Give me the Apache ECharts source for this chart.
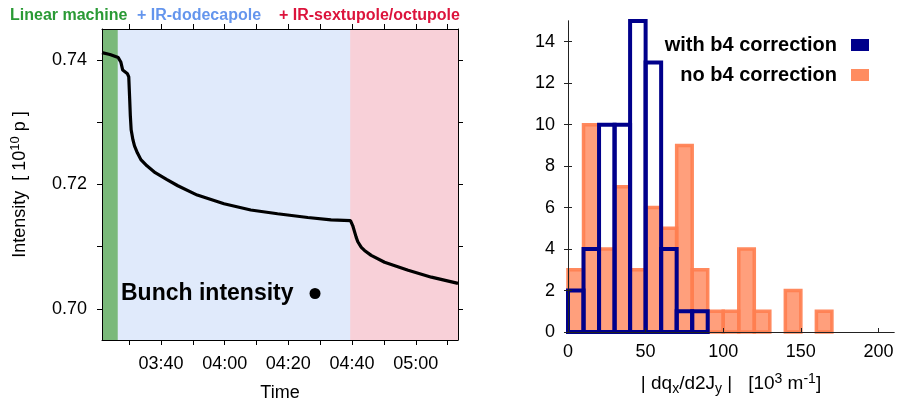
<!DOCTYPE html>
<html>
<head>
<meta charset="utf-8">
<script src="https://cdn.jsdelivr.net/npm/echarts@6/dist/echarts.min.js"></script>
<style>html,body{margin:0;padding:0;background:#fff}#c{width:903px;height:407px}</style>
</head>
<body>
<div id="c"></div>
<script>
// ---- data ----
// left panel: time in minutes after midnight, intensity in 1e10 p
const timeMin = [201.5, 204.0, 206.6, 207.4, 208.0, 209.5, 209.9, 210.2, 210.4, 210.65, 211.2, 211.7, 212.6, 213.7, 215.6, 218.2, 221.9, 225.3, 231.4, 239.8, 248.2, 256.6, 266.1, 273.4, 279.5, 280.2, 281.3, 281.8, 282.9, 283.9, 286.0, 290.2, 297.6, 304.9, 313.25];
const intensity = [0.7412, 0.7409, 0.7404, 0.7397, 0.7384, 0.7378, 0.7373, 0.7336, 0.7310, 0.7288, 0.7272, 0.7262, 0.7251, 0.7240, 0.7230, 0.7219, 0.7208, 0.7198, 0.7183, 0.7169, 0.7159, 0.7153, 0.7147, 0.7143, 0.7142, 0.7134, 0.7115, 0.7108, 0.7099, 0.7094, 0.7086, 0.7075, 0.7062, 0.7051, 0.7041];
const phaseNames = ['Linear machine', '+ IR-dodecapole', '+ IR-sextupole/octupole'];
const phaseEdges = [201.5, 206.45, 279.4, 313.25];
const timeTicks = [210, 220, 230, 240, 250, 260, 270, 280, 290, 300, 310];
const timeLabels = [220, 240, 260, 280, 300];
const intensityTicks = [0.70, 0.71, 0.72, 0.73, 0.74];
const intensityLabels = [0.70, 0.72, 0.74];

// right panel: histograms, bins of width 10 starting at binStart
const binWidth = 10;
const binStart = [0, 10, 20, 30, 40, 50, 60, 70, 80, 90, 100, 110, 120, 130, 140, 150, 160];
const countNoB4 = [3, 10, 4, 7, 3, 6, 5, 9, 3, 1, 1, 4, 1, 0, 2, 0, 1];
const countWithB4 = [2, 4, 10, 10, 15, 13, 4, 1, 1, 0, 0, 0, 0, 0, 0, 0, 0];
const histXTicks = [0, 50, 100, 150, 200];
const histYTicks = [0, 2, 4, 6, 8, 10, 12, 14];

// ---- chart ----
const FONT = '"Liberation Sans", Arial, Helvetica, sans-serif';
const chart = echarts.init(document.getElementById('c'), null, {renderer: 'canvas'});
const pad = n => (n < 10 ? '0' : '') + n;
const fmtTime = v => pad(Math.floor(v / 60)) + ':' + pad(Math.round(v % 60));

const lineData = timeMin.map((t, i) => [t, intensity[i]]);
const bandColors = ['rgba(34,139,34,0.6)', 'rgba(100,149,237,0.2)', 'rgba(220,20,60,0.2)'];
const titleColors = ['#2a9a35', '#6495ed', '#dc143c'];
const bands = phaseNames.map((n, i) => [
  {xAxis: phaseEdges[i], itemStyle: {color: bandColors[i]}},
  {xAxis: phaseEdges[i + 1]}
]);

function histItem(stroke, fill, lw) {
  return function (params, api) {
    const x0 = api.value(0), y = api.value(1);
    if (!y) return null;
    const p0 = api.coord([x0, 0]);
    const p1 = api.coord([x0 + binWidth, y]);
    return {
      type: 'rect',
      shape: {x: p0[0], y: p1[1], width: p1[0] - p0[0], height: p0[1] - p1[1]},
      style: {fill: fill, stroke: stroke, lineWidth: lw}
    };
  };
}

const axisTxt = {color: '#000', fontSize: 18, fontFamily: FONT};
const blackLine = {lineStyle: {color: '#000', width: 1}};

chart.setOption({
  animation: false,
  backgroundColor: '#fff',
  title: phaseNames.map((n, i) => ({
    text: n,
    left: [5, 132, 274][i],
    top: 3,
    textStyle: {color: titleColors[i], fontSize: 16, fontWeight: 'bold', fontFamily: FONT}
  })),
  legend: [
    {
      data: ['Bunch intensity'],
      left: 116, top: 277,
      icon: 'circle', itemWidth: 11, itemHeight: 11,
      align: 'right',
      textStyle: {color: '#000', fontSize: 23, fontWeight: 'bold', fontFamily: FONT, padding: [0, 11, 0, 0]},
      selectedMode: false
    },
    {
      data: ['with b4 correction', 'no b4 correction'],
      right: 29, top: 30,
      orient: 'vertical',
      icon: 'rect', itemWidth: 18, itemHeight: 12, itemGap: 10,
      align: 'right',
      textStyle: {color: '#000', fontSize: 20, fontWeight: 'bold', fontFamily: FONT, padding: [0, 9, 0, 0]},
      selectedMode: false
    }
  ],
  grid: [
    {left: 102, top: 29, right: 445, bottom: 65, containLabel: false},
    {left: 568, top: 21, right: 9, bottom: 75, containLabel: false}
  ],
  xAxis: [
    {
      type: 'value', gridIndex: 0, position: 'bottom', min: phaseEdges[0], max: phaseEdges[3], z: 5,
      axisLine: blackLine,
      axisTick: {show: true, inside: false, length: 5, lineStyle: {color: '#000'}, customValues: timeTicks},
      axisLabel: {show: true, margin: 15, customValues: timeLabels, formatter: fmtTime, ...axisTxt},
      splitLine: {show: false},
      name: 'Time', nameLocation: 'middle', nameGap: 44, nameTextStyle: axisTxt
    },
    {
      type: 'value', gridIndex: 0, position: 'top', min: phaseEdges[0], max: phaseEdges[3], z: 5,
      axisLine: blackLine,
      axisTick: {show: true, inside: false, length: 5, lineStyle: {color: '#000'}, customValues: timeTicks},
      axisLabel: {show: false}, splitLine: {show: false}
    },
    {
      type: 'value', gridIndex: 1, position: 'bottom', min: 0, max: 210, z: 5,
      axisLine: {lineStyle: {color: '#222', width: 1}},
      axisTick: {show: true, inside: true, length: 4, lineStyle: {color: '#222'}, customValues: histXTicks},
      axisLabel: {show: true, margin: 11, customValues: histXTicks, ...axisTxt},
      splitLine: {show: false},
      name: '{t|| dq}{sb|x}{t|/d2J}{sb|y}{t| |   [10}{sp|3}{t| m}{sp|-1}{t|]}',
      nameLocation: 'middle', nameGap: 40,
      nameTextStyle: {
        rich: {
          t: {fontSize: 19, color: '#000', fontFamily: FONT},
          sb: {fontSize: 14, color: '#000', fontFamily: FONT, verticalAlign: 'bottom', padding: [10, 0, 0, 0]},
          sp: {fontSize: 14, color: '#000', fontFamily: FONT, verticalAlign: 'top', padding: [0, 0, 10, 0]}
        }
      }
    },
    {
      type: 'value', gridIndex: 1, position: 'top', min: 0, max: 210, z: 5,
      axisLine: {lineStyle: {color: '#222', width: 1}},
      axisTick: {show: false}, axisLabel: {show: false}, splitLine: {show: false}
    }
  ],
  yAxis: [
    {
      type: 'value', gridIndex: 0, position: 'left', min: 0.695, max: 0.745, z: 5,
      axisLine: {show: true, ...blackLine},
      axisTick: {show: true, inside: false, length: 5, lineStyle: {color: '#000'}, customValues: intensityTicks},
      axisLabel: {show: true, margin: 15, customValues: intensityLabels, formatter: v => v.toFixed(2), ...axisTxt},
      splitLine: {show: false},
      name: '{t|Intensity  [ 10}{sp|10}{t| p ]}', nameLocation: 'middle', nameGap: 70, nameRotate: 90,
      nameTextStyle: {
        rich: {
          t: {fontSize: 18, color: '#000', fontFamily: FONT},
          sp: {fontSize: 13, color: '#000', fontFamily: FONT, verticalAlign: 'top', padding: [0, 0, 10, 0]}
        }
      }
    },
    {
      type: 'value', gridIndex: 0, position: 'right', min: 0.695, max: 0.745, z: 5,
      axisLine: {show: true, ...blackLine},
      axisTick: {show: true, inside: false, length: 5, lineStyle: {color: '#000'}, customValues: intensityTicks},
      axisLabel: {show: false}, splitLine: {show: false}
    },
    {
      type: 'value', gridIndex: 1, position: 'left', min: 0, max: 15, z: 5,
      axisLine: {show: true, lineStyle: {color: '#222', width: 1}},
      axisTick: {show: true, inside: true, length: 4, lineStyle: {color: '#222'}, customValues: histYTicks},
      axisLabel: {show: true, margin: 13, customValues: histYTicks, ...axisTxt},
      splitLine: {show: false}
    },
    {
      type: 'value', gridIndex: 1, position: 'right', min: 0, max: 15, z: 5,
      axisLine: {show: true, lineStyle: {color: '#222', width: 1}},
      axisTick: {show: true, inside: true, length: 4, lineStyle: {color: '#222'}, customValues: histYTicks},
      axisLabel: {show: false}, splitLine: {show: false}
    }
  ],
  series: [
    {
      name: 'Bunch intensity', type: 'line', xAxisIndex: 0, yAxisIndex: 0,
      data: lineData, showSymbol: false, symbol: 'circle',
      itemStyle: {color: '#000'},
      lineStyle: {color: '#000', width: 3.2},
      z: 3,
      markArea: {silent: true, data: bands}
    },
    {
      name: 'no b4 correction', type: 'custom', xAxisIndex: 2, yAxisIndex: 2,
      data: binStart.map((b, i) => [b, countNoB4[i]]),
      itemStyle: {color: '#ff8c60'},
      renderItem: histItem('rgba(255,127,80,0.92)', 'rgba(255,127,80,0.75)', 3.5),
      z: 2
    },
    {
      name: 'with b4 correction', type: 'custom', xAxisIndex: 2, yAxisIndex: 2,
      data: binStart.map((b, i) => [b, countWithB4[i]]),
      itemStyle: {color: '#00008b'},
      renderItem: histItem('#00008b', 'rgba(0,0,0,0)', 4),
      z: 3
    }
  ]
});
</script>
</body>
</html>
